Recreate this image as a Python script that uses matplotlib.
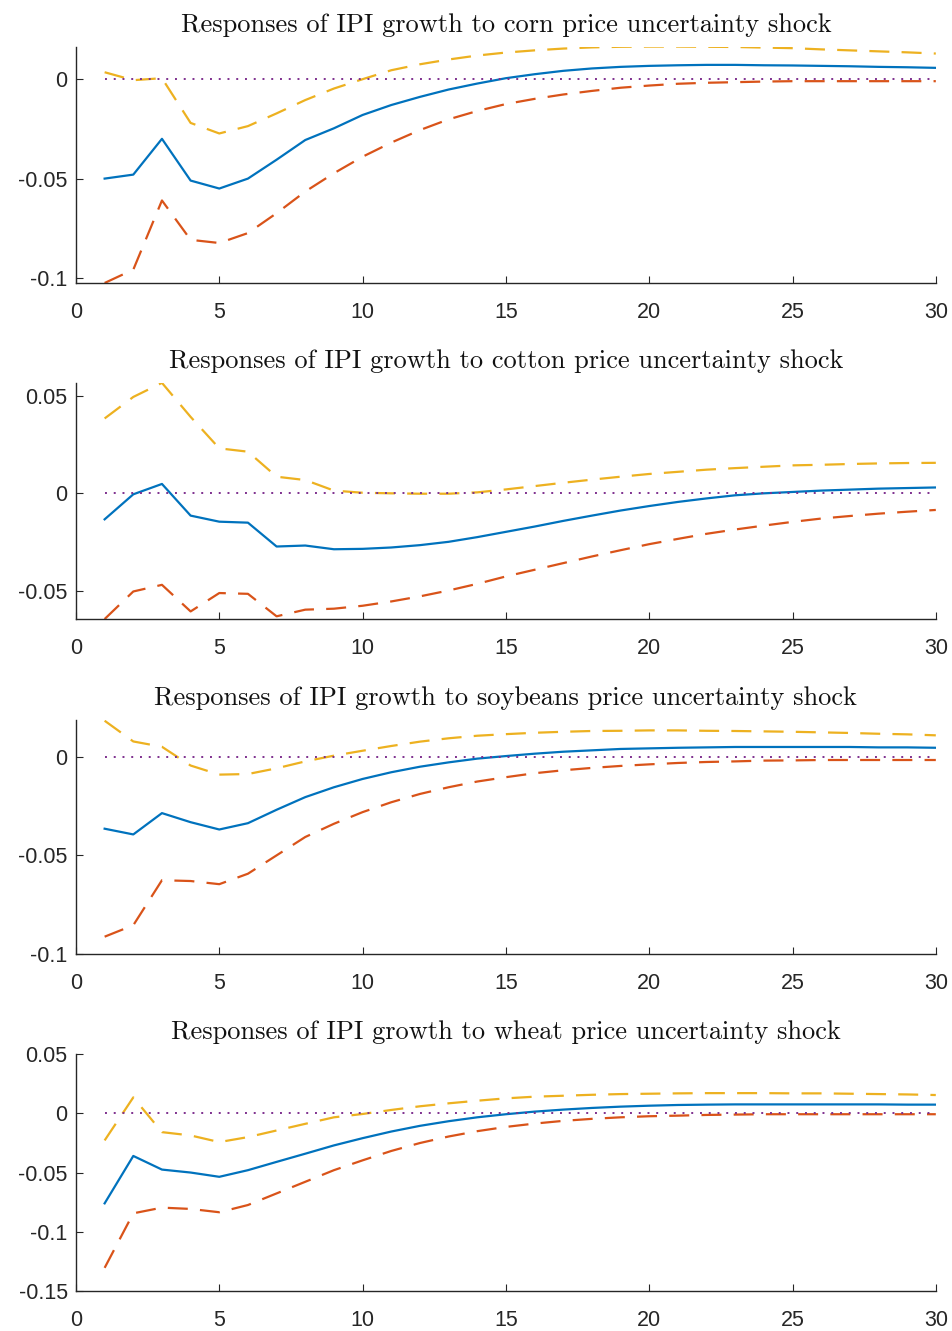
import numpy as np
import matplotlib
matplotlib.use("Agg")
import matplotlib.pyplot as plt

plt.rcParams.update({
    "font.family": ["Liberation Sans", "DejaVu Sans"],
    "axes.unicode_minus": False,
    "figure.facecolor": "white", "axes.facecolor": "white",
})

BLUE = "#0072BD"
ORANGE = "#D95319"
YELLOW = "#EDB120"
PURPLE = "#7E2F8E"

horizon = np.arange(1, 31)
commodities = ["corn", "cotton", "soybeans", "wheat"]

# impulse responses (median) and bands
corn_irf = [-0.050, -0.048, -0.030, -0.051, -0.055, -0.050, -0.0405, -0.0306, -0.0247, -0.018,
            -0.013, -0.0089, -0.0052, -0.0022, 0.0005, 0.0025, 0.0042, 0.0054, 0.0062, 0.0067,
            0.0070, 0.0072, 0.0072, 0.0070, 0.0069, 0.0067, 0.0065, 0.0062, 0.0060, 0.0057]
corn_upper = [0.0035, -0.0005, 0.0005, -0.022, -0.0273, -0.0236, -0.0172, -0.0105, -0.0047, 0.0,
              0.0045, 0.0075, 0.0099, 0.0119, 0.0134, 0.0145, 0.0154, 0.0160, 0.0163, 0.0164,
              0.0164, 0.0163, 0.0162, 0.0159, 0.0156, 0.0150, 0.0145, 0.0140, 0.0135, 0.0129]
corn_lower = [-0.1025, -0.0958, -0.0610, -0.0808, -0.0824, -0.0774, -0.0674, -0.0565, -0.0473, -0.039,
              -0.0319, -0.0256, -0.0202, -0.0160, -0.0125, -0.0099, -0.0077, -0.0059, -0.0043, -0.0032,
              -0.0023, -0.0018, -0.0015, -0.0012, -0.0010, -0.0010, -0.0010, -0.0010, -0.0010, -0.0010]

cotton_irf = [-0.0133, -0.0005, 0.0048, -0.0114, -0.0145, -0.0150, -0.0272, -0.0267, -0.0286, -0.0284,
              -0.0277, -0.0265, -0.0248, -0.0224, -0.0197, -0.0170, -0.0141, -0.0114, -0.0088, -0.0065,
              -0.0044, -0.0026, -0.0010, 0.0, 0.0007, 0.0014, 0.0019, 0.0024, 0.0027, 0.0030]
cotton_upper = [0.0383, 0.0493, 0.0565, 0.0391, 0.0230, 0.0213, 0.0085, 0.0068, 0.0014, 0.0003,
                0.0, -0.0002, -0.0002, 0.0005, 0.0020, 0.0037, 0.0054, 0.0070, 0.0085, 0.0099,
                0.0110, 0.0121, 0.0129, 0.0136, 0.0143, 0.0146, 0.0150, 0.0153, 0.0155, 0.0156]
cotton_lower = [-0.0643, -0.0502, -0.0468, -0.0604, -0.0510, -0.0514, -0.0629, -0.0595, -0.0590, -0.0575,
                -0.0553, -0.0527, -0.0497, -0.0463, -0.0425, -0.0391, -0.0357, -0.0323, -0.0291, -0.0260,
                -0.0233, -0.0207, -0.0185, -0.0165, -0.0146, -0.0129, -0.0116, -0.0104, -0.0094, -0.0085]

soy_irf = [-0.0365, -0.0394, -0.0286, -0.0332, -0.0369, -0.0337, -0.0269, -0.0205, -0.0155, -0.0113,
           -0.0079, -0.0051, -0.0029, -0.0010, 0.0003, 0.0015, 0.0025, 0.0032, 0.0039, 0.0042,
           0.0045, 0.0047, 0.0049, 0.0049, 0.0049, 0.0049, 0.0049, 0.0047, 0.0047, 0.0045]
soy_upper = [0.0182, 0.0077, 0.0050, -0.0045, -0.0091, -0.0088, -0.0059, -0.0024, 0.0005, 0.0030,
             0.0054, 0.0076, 0.0093, 0.0106, 0.0114, 0.0121, 0.0126, 0.0130, 0.0131, 0.0133,
             0.0133, 0.0131, 0.0130, 0.0128, 0.0126, 0.0123, 0.0120, 0.0116, 0.0113, 0.0108]
soy_lower = [-0.0912, -0.0854, -0.0626, -0.0630, -0.0646, -0.0593, -0.0500, -0.0407, -0.0340, -0.0281,
             -0.0231, -0.0189, -0.0155, -0.0126, -0.0104, -0.0084, -0.0069, -0.0057, -0.0047, -0.0039,
             -0.0032, -0.0027, -0.0024, -0.0020, -0.0019, -0.0017, -0.0017, -0.0017, -0.0017, -0.0017]

wheat_irf = [-0.0760, -0.0360, -0.0475, -0.0500, -0.0536, -0.0480, -0.0410, -0.0341, -0.0271, -0.0210,
             -0.0154, -0.0106, -0.0067, -0.0034, -0.0008, 0.0014, 0.0031, 0.0045, 0.0056, 0.0064,
             0.0070, 0.0073, 0.0075, 0.0075, 0.0075, 0.0075, 0.0075, 0.0075, 0.0073, 0.0073]
wheat_upper = [-0.0229, 0.0134, -0.0159, -0.0187, -0.0243, -0.0201, -0.0145, -0.0089, -0.0034, -0.0006,
               0.0028, 0.0059, 0.0084, 0.0106, 0.0126, 0.0140, 0.0148, 0.0156, 0.0162, 0.0165,
               0.0168, 0.0170, 0.0170, 0.0170, 0.0168, 0.0168, 0.0165, 0.0162, 0.0159, 0.0154]
wheat_lower = [-0.1304, -0.0844, -0.0796, -0.0807, -0.0835, -0.0774, -0.0676, -0.0578, -0.0480, -0.0397,
               -0.0318, -0.0251, -0.0196, -0.0151, -0.0115, -0.0087, -0.0064, -0.0047, -0.0034, -0.0025,
               -0.0020, -0.0014, -0.0011, -0.0008, -0.0008, -0.0008, -0.0008, -0.0008, -0.0008, -0.0008]

irfs = [corn_irf, cotton_irf, soy_irf, wheat_irf]
uppers = [corn_upper, cotton_upper, soy_upper, wheat_upper]
lowers = [corn_lower, cotton_lower, soy_lower, wheat_lower]

y_limits = [(-0.1025, 0.0162), (-0.0643, 0.0564), (-0.1, 0.0186), (-0.15, 0.05)]
y_ticks = [[-0.1, -0.05, 0], [-0.05, 0, 0.05], [-0.1, -0.05, 0], [-0.15, -0.1, -0.05, 0, 0.05]]
y_ticklabels = [["-0.1", "-0.05", "0"], ["-0.05", "0", "0.05"], ["-0.1", "-0.05", "0"],
                ["-0.15", "-0.1", "-0.05", "0", "0.05"]]
x_ticks = [0, 5, 10, 15, 20, 25, 30]

# axes boxes in figure fractions (left, bottom, width, height)
boxes = [(0.0798, 0.7874, 0.9032, 0.1773),
         (0.0798, 0.5349, 0.9032, 0.1773),
         (0.0798, 0.2832, 0.9032, 0.1759),
         (0.0798, 0.0300, 0.9032, 0.1781)]

fig = plt.figure(figsize=(9.52, 13.31), dpi=100)

for i, name in enumerate(commodities):
    ax = fig.add_axes(boxes[i])
    ax.plot(horizon, irfs[i], color=BLUE, linewidth=1.6)
    ax.plot(horizon, uppers[i], color=YELLOW, linewidth=1.6, linestyle=(0, (9, 5.5)))
    ax.plot(horizon, lowers[i], color=ORANGE, linewidth=1.6, linestyle=(0, (9, 5.5)))
    ax.hlines(0, horizon[0], horizon[-1], color=PURPLE, linewidth=1.4, linestyles=[(0, (1, 3.5))])

    ax.set_xlim(0, 30)
    ax.set_ylim(*y_limits[i])
    ax.set_xticks(x_ticks)
    ax.set_yticks(y_ticks[i])
    ax.set_yticklabels(y_ticklabels[i])
    ax.set_title(f"Responses of IPI growth to {name} price uncertainty shock",
                 fontfamily="cmr10", fontsize=19, pad=10.5, color="#111111")

    for side in ["top", "right"]:
        ax.spines[side].set_visible(False)
    for side in ["left", "bottom"]:
        ax.spines[side].set_color("#262626")
        ax.spines[side].set_linewidth(1.0)
    ax.tick_params(direction="in", length=5, width=0.8, colors="#262626",
                   labelsize=15.5, labelcolor="#262626")
    ax.tick_params(axis="x", pad=13.5)
    ax.tick_params(axis="y", pad=6)

plt.savefig("out.png", dpi=100)
plt.close()
